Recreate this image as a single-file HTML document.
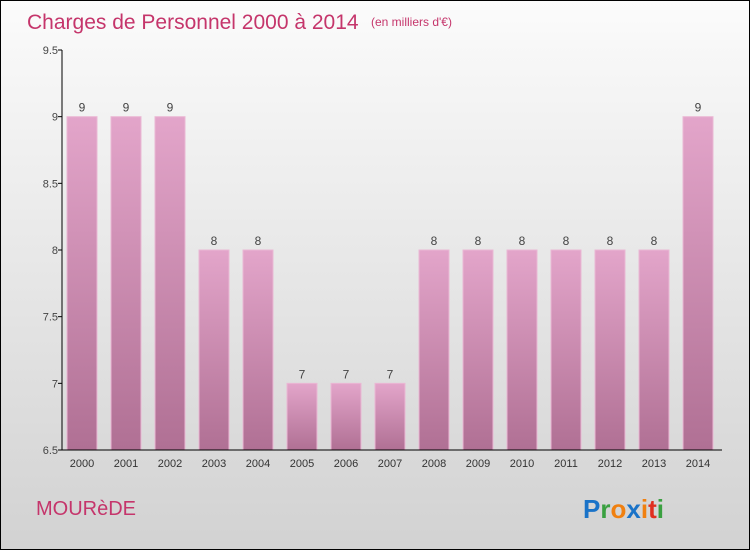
<!DOCTYPE html>
<html><head><meta charset="utf-8"><style>
body{margin:0;width:750px;height:550px;overflow:hidden;font-family:"Liberation Sans",sans-serif}
#wrap{position:relative;width:748px;height:548px;border:1px solid #000;background:linear-gradient(#fbfbfb,#d2d2d2)}
</style></head><body>
<div id="wrap">
<svg id="c" width="748" height="548">
<defs><linearGradient id="g" x1="0" y1="0" x2="0" y2="1"><stop offset="0" stop-color="#e3a5ca"/><stop offset="1" stop-color="#b07094"/></linearGradient></defs>
<text x="26" y="28" font-size="21" fill="#c5356b">Charges de Personnel 2000 à 2014</text>
<text x="370" y="25" font-size="12" fill="#c5356b">(en milliers d'€)</text>
<text x="35" y="514" font-size="20" fill="#c5356b">MOURèDE</text>
<g font-size="26" font-weight="bold">
<text x="582" y="517"><tspan fill="#1a73c8">P</tspan><tspan fill="#3aa040">r</tspan><tspan fill="#f08010">o</tspan><tspan fill="#1a73c8">x</tspan><tspan fill="#f08010">i</tspan><tspan fill="#e03020">t</tspan><tspan fill="#3aa040">i</tspan></text></g>
<g id="plot"></g>
</svg></div>
<script>
const categories=["2000","2001","2002","2003","2004","2005","2006","2007","2008","2009","2010","2011","2012","2013","2014"];
const values=[9,9,9,8,8,7,7,7,8,8,8,8,8,8,9];
const ticks=[6.5,7,7.5,8,8.5,9,9.5];
const ns="http://www.w3.org/2000/svg";
const p=document.getElementById('plot');
const y=v=>449-(v-6.5)*(400/3);
const x=i=>81+i*44;
function mk(t,a){const e=document.createElementNS(ns,t);for(const k in a)e.setAttribute(k,a[k]);p.appendChild(e);return e;}
categories.forEach((c,i)=>{
 const r=mk('rect',{x:x(i)-15,y:y(values[i]),width:30,height:y(6.5)-y(values[i]),fill:'url(#g)',stroke:'#eab8d4','stroke-width':1});
 
 
 const l=mk('text',{x:x(i),y:y(values[i])-5,'text-anchor':'middle','font-size':12,fill:'#444'});
 l.textContent=values[i];
 
 
 const t=mk('text',{x:x(i),y:466,'text-anchor':'middle','font-size':11,fill:'#333'});
 t.textContent=c;
 
 
});
ticks.forEach(v=>{
 mk('line',{x1:57,x2:61,y1:y(v),y2:y(v),stroke:'#000'});
 const t=mk('text',{x:57,y:y(v)+4,'text-anchor':'end','font-size':11,fill:'#444'});
 t.textContent=v;
 
 
});
const ya=mk('line',{x1:61,x2:61,y1:y(9.5),y2:y(6.5),stroke:'#000'});


const xa=mk('line',{x1:61,x2:721,y1:y(6.5),y2:y(6.5),stroke:'#000'});


</script>
</body></html>
